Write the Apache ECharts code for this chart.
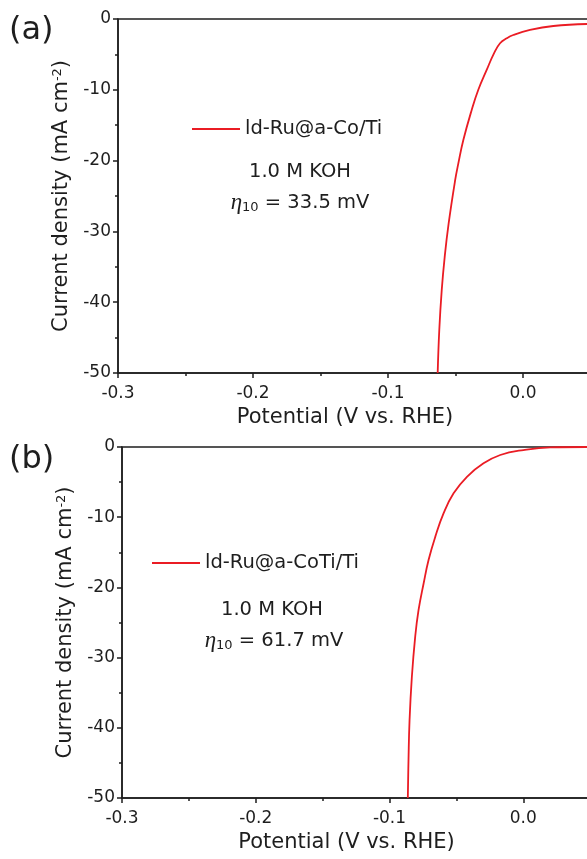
<!DOCTYPE html>
<html>
<head>
<meta charset="utf-8">
<script src="https://cdn.jsdelivr.net/npm/echarts@6/dist/echarts.min.js"></script>
<style>
  html, body { margin: 0; padding: 0; background: #fff; }
  #chart { width: 587px; height: 859px; }
</style>
</head>
<body>
<div id="chart"></div>
<script>
// panel (a): ld-Ru@a-Co/Ti
const potA = [-0.0632, -0.0620, -0.0602, -0.0580, -0.0551, -0.0502, -0.0479, -0.0442, -0.0380, -0.0331,
  -0.0269, -0.0215, -0.0170, -0.0121, -0.0072, 0.0052, 0.0225, 0.0480];
const currentA = [-50, -43.9, -38.3, -33.6, -28.9, -22.7, -20.4, -17.1, -12.85, -10.0,
  -7.2, -4.85, -3.43, -2.73, -2.26, -1.55, -0.99, -0.7];

// panel (b): ld-Ru@a-CoTi/Ti
const potB = [-0.0863, -0.0858, -0.0850, -0.0833, -0.0808, -0.0783, -0.0745, -0.0708, -0.0658, -0.0596,
  -0.0521, -0.0421, -0.0297, -0.0172, 0.0002, 0.0202, 0.0480];
const currentB = [-50, -44.65, -38.9, -32.8, -27.05, -23.25, -19.45, -16.1, -12.8, -9.46,
  -6.6, -4.24, -2.33, -1.14, -0.43, -0.05, 0.0];

const xTicks = { min: -0.3, max: 0.1, interval: 0.1 };
const yTicks = { min: -50, max: 0, interval: 10 };

const nameA = 'ld-Ru@a-Co/Ti';
const nameB = 'ld-Ru@a-CoTi/Ti';
const font = 'DejaVu Sans';
const ink = '#1e1e1e';
const red = '#ea1c24';

// the plot runs on past the right edge of the page, so the x title is pulled back left
function xAxisFor(gridIndex) {
  return {
    type: 'value', gridIndex, min: xTicks.min, max: xTicks.max, interval: xTicks.interval,
    name: 'Potential (V vs. RHE)', nameLocation: 'middle', nameGap: 34,
    nameTextStyle: { fontFamily: font, fontSize: 21, color: ink, padding: [0, 86, 0, 0] },
    axisLine: { onZero: false, lineStyle: { color: ink, width: 1.5 } },
    axisTick: { inside: false, length: 5, lineStyle: { color: ink, width: 1.5 } },
    minorTick: { show: true, splitNumber: 2, length: 3, lineStyle: { color: ink, width: 1.5 } },
    splitLine: { show: false },
    axisLabel: { fontFamily: font, fontSize: 17, color: ink, margin: 12,
      formatter: v => v.toFixed(1) }
  };
}

function yAxisFor(gridIndex) {
  return {
    type: 'value', gridIndex, min: yTicks.min, max: yTicks.max, interval: yTicks.interval,
    name: 'Current density (mA cm{sup|-2})', nameLocation: 'middle', nameGap: 42,
    nameTextStyle: { fontFamily: font, fontSize: 21, color: ink,
      rich: { sup: { fontFamily: font, fontSize: 13, color: ink, verticalAlign: 'top' } } },
    axisLine: { onZero: false, lineStyle: { color: ink, width: 1.5 } },
    axisTick: { inside: false, length: 5, lineStyle: { color: ink, width: 1.5 } },
    minorTick: { show: true, splitNumber: 2, length: 3, lineStyle: { color: ink, width: 1.5 } },
    splitLine: { show: false },
    axisLabel: { fontFamily: font, fontSize: 17, color: ink, margin: 7 }
  };
}

function legendFor(name, left, top) {
  return {
    data: [name], left, top, padding: 0, icon: 'rect', itemWidth: 48, itemHeight: 2,
    textStyle: { fontFamily: font, fontSize: 19.5, color: ink }
  };
}

function note(x, y, text) {
  return { type: 'text', x, y, style: { text, fill: ink, font: '19.5px "DejaVu Sans"', align: 'center', verticalAlign: 'middle' } };
}

function eta(x, y, value) {
  return {
    type: 'text', x, y,
    style: {
      text: '{e|η}{s|10} = ' + value + ' mV', fill: ink, font: '19.5px "DejaVu Sans"',
      align: 'center', verticalAlign: 'middle',
      rich: {
        e: { fontFamily: 'Liberation Serif', fontStyle: 'italic', fontSize: 23, fill: ink },
        s: { fontFamily: font, fontSize: 13, fill: ink, verticalAlign: 'bottom', padding: [9, 0, 0, 0] }
      }
    }
  };
}

const chart = echarts.init(document.getElementById('chart'), null, { renderer: 'canvas' });
chart.setOption({
  backgroundColor: '#fff',
  animation: false,
  grid: [
    { left: 118, top: 19, height: 354, width: 540, outerBoundsMode: 'none', containLabel: false,
      show: true, borderColor: ink, borderWidth: 1.5 },
    { left: 122, top: 447, height: 351, width: 535, outerBoundsMode: 'none', containLabel: false,
      show: true, borderColor: ink, borderWidth: 1.5 }
  ],
  xAxis: [xAxisFor(0), xAxisFor(1)],
  yAxis: [yAxisFor(0), yAxisFor(1)],
  legend: [legendFor(nameA, 192, 119), legendFor(nameB, 152, 553)],
  series: [
    { name: nameA, type: 'line', xAxisIndex: 0, yAxisIndex: 0, showSymbol: false, smooth: 0.45,
      lineStyle: { color: red, width: 1.8 }, itemStyle: { color: red },
      data: potA.map((p, i) => [p, currentA[i]]) },
    { name: nameB, type: 'line', xAxisIndex: 1, yAxisIndex: 1, showSymbol: false, smooth: 0.45,
      lineStyle: { color: red, width: 1.8 }, itemStyle: { color: red },
      data: potB.map((p, i) => [p, currentB[i]]) }
  ],
  graphic: [
    { type: 'text', x: 9, y: 15, style: { text: '(a)', fill: ink, font: '32px "DejaVu Sans"' } },
    { type: 'text', x: 9, y: 444, style: { text: '(b)', fill: ink, font: '32px "DejaVu Sans"' } },
    note(300, 172, '1.0 M KOH'),
    eta(300, 203, '33.5'),
    note(272, 610, '1.0 M KOH'),
    eta(274, 641, '61.7')
  ]
});
</script>
</body>
</html>
